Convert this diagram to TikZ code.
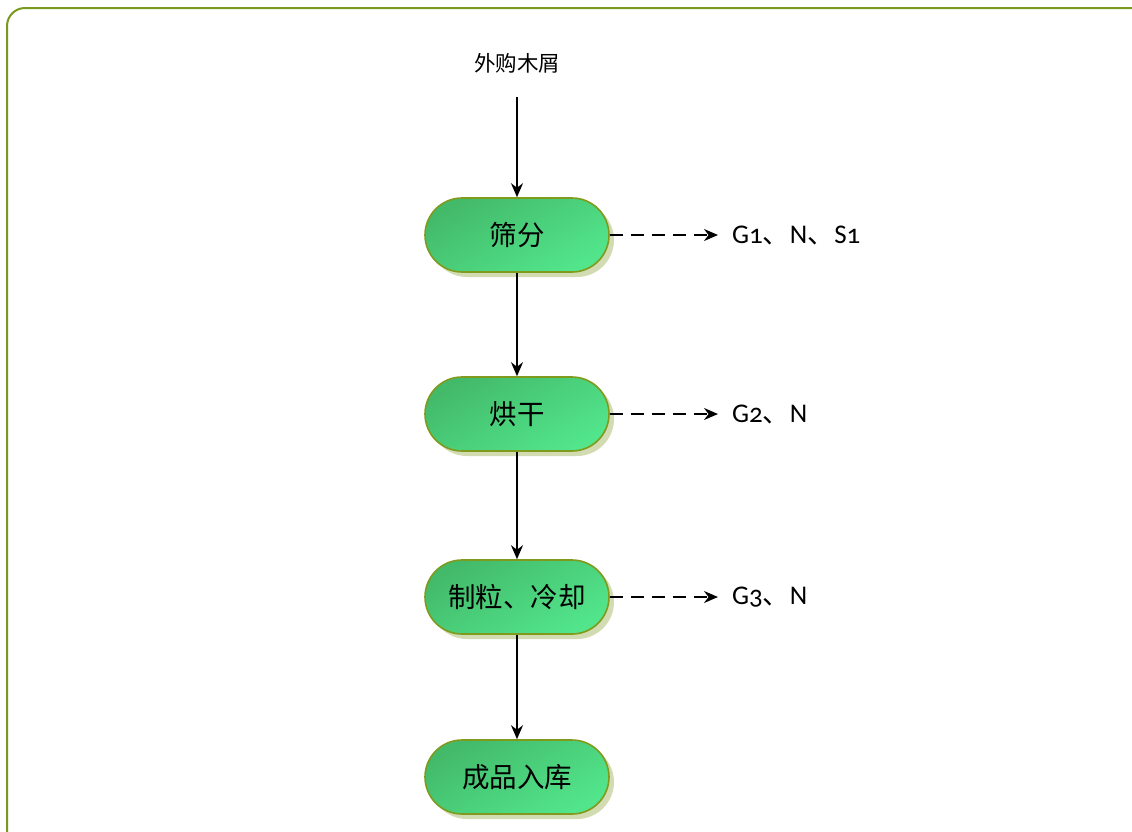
\documentclass[tikz,border=0pt]{standalone}
\usepackage{fontspec}
\newfontfamily\cjk{Noto Sans CJK SC}
\newfontfamily\labfont[Numbers=OldStyle]{Carlito}
\usetikzlibrary{arrows.meta,shadows}
\definecolor{frameolive}{HTML}{7A9A1F}
\definecolor{pilldark}{HTML}{43BA6A}
\definecolor{pilllight}{HTML}{52E58B}
\definecolor{pillrim}{HTML}{7F9A1C}
\definecolor{pillshadow}{HTML}{D3DBB2}
\tikzset{
  x=1pt, y=-1pt,
  pill/.style={rectangle, rounded corners=37pt, minimum width=184pt, minimum height=74pt,
    draw=pillrim, line width=1.6pt, top color=pilldark, bottom color=pilllight,
    shading angle=30,
    drop shadow={shadow xshift=5pt, shadow yshift=-5pt, fill=pillshadow, opacity=1},
    font=\cjk\fontsize{27.5}{30}\selectfont, text=black, inner sep=0pt},
  flow/.style={line width=1.8pt, -{Stealth[length=14pt,width=12pt]}},
  emit/.style={line width=1.8pt, dash pattern=on 13pt off 8pt, -{Stealth[length=14pt,width=12pt]}},
  outlab/.style={anchor=west, inner sep=0pt, font=\labfont\fontsize{27}{30}\selectfont},
}
\begin{document}
\begin{tikzpicture}
\useasboundingbox (0,0) rectangle (1132,831);
% outer frame, running past the right and lower edges
\begin{scope}
\clip (0,0) rectangle (1132,831);
\draw[frameolive, line width=2pt, rounded corners=18pt] (7,8) rectangle (1150,848);
\end{scope}

\node[font=\cjk\fontsize{21.5}{24}\selectfont] (src) at (517,63) {外购木屑};
\coordinate (srcend) at (517,97);

\node[pill] (s1) at (517,235) {筛分};
\node[pill] (s2) at (517,414) {烘干};
\node[pill] (s3) at (517,597) {制粒、冷却};
\node[pill] (s4) at (517,777) {成品入库};

\draw[flow] (srcend) -- (s1.north);
\draw[flow] (s1.south) -- (s2.north);
\draw[flow] (s2.south) -- (s3.north);
\draw[flow] (s3.south) -- (s4.north);

\node[outlab] (o1) at (732,235) {G1{\cjk 、}N{\cjk 、}S1};
\node[outlab] (o2) at (732,414) {G2{\cjk 、}N};
\node[outlab] (o3) at (732,597) {G3{\cjk 、}N};

\draw[emit] (s1.east) -- (o1.west -| 718,0);
\draw[emit] (s2.east) -- (o2.west -| 718,0);
\draw[emit] (s3.east) -- (o3.west -| 718,0);
\end{tikzpicture}
\end{document}
